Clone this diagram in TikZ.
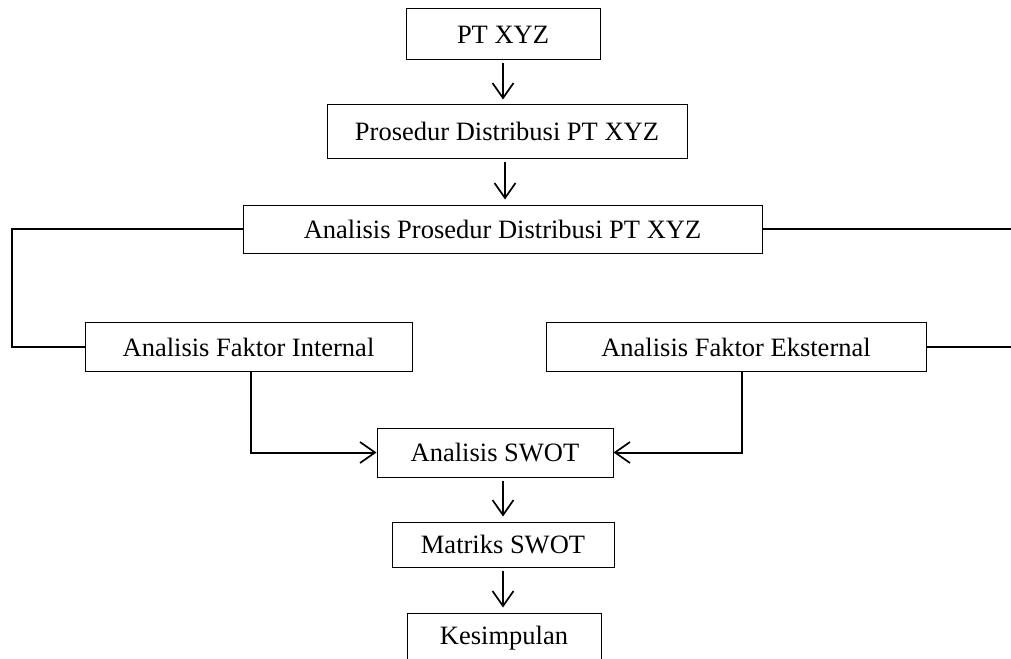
\documentclass[tikz,border=0pt]{standalone}
\usepackage{fontspec}
\setmainfont{Liberation Serif}
\usepackage{tikz}
\usetikzlibrary{arrows.meta, positioning, calc}

\begin{document}
\begin{tikzpicture}[
    x=1pt, y=-1pt,
    box/.style={rectangle, draw, line width=1pt, inner sep=0pt, align=center, font=\fontsize{26.5}{30}\selectfont},
    arrow/.style={-{Straight Barb[length=15pt, width=21pt, line width=1.7pt]}, line width=1.7pt, shorten <=3pt, shorten >=5pt},
    link/.style={line width=1.8pt},
    elbow/.style={-{Straight Barb[length=15pt, width=21pt, line width=1.7pt]}, line width=2pt}
]
    \useasboundingbox (0,0) rectangle (1011,658);
    \clip (0,0) rectangle (1011,658);

    % Main flow
    \node[box, minimum width=194pt, minimum height=51pt] (pt) at (503,34.5) {PT XYZ};
    \node[box, minimum width=360pt, minimum height=53pt] (prosedur) at (507,131.5) {Prosedur Distribusi PT XYZ};
    \node[box, minimum width=519pt, minimum height=48pt] (analisis) at (502.5,229) {Analisis Prosedur Distribusi PT XYZ};

    % Internal / external factors
    \node[box, minimum width=327pt, minimum height=49pt] (intern) at (248.5,347) {Analisis Faktor Internal};
    \node[box, minimum width=380pt, minimum height=49pt] (ekstern) at (736,347) {Analisis Faktor Eksternal};

    % SWOT and conclusion
    \node[box, minimum width=236pt, minimum height=49pt] (swot) at (495,452.5) {Analisis SWOT};
    \node[box, minimum width=222pt, minimum height=45pt] (matriks) at (503,544.5) {Matriks SWOT};
    \node[box, minimum width=194pt, minimum height=50pt] (kesimpulan) at (504,638) {Kesimpulan};

    % Side connectors
    \coordinate (kiri) at (12,229);
    \coordinate (kanan1) at (1011,229);
    \coordinate (kanan2) at (1011,347);

    % Arrows
    \draw[arrow] (pt.south) -- (pt.south |- prosedur.north);
    \draw[arrow] ([xshift=-2pt]prosedur.south) -- ([xshift=-2pt]prosedur.south |- analisis.north);
    \draw[arrow] ([xshift=8pt]swot.south) -- ([xshift=8pt]swot.south |- matriks.north);
    \draw[arrow] (matriks.south) -- (matriks.south |- kesimpulan.north);

    \draw[link] (analisis.west) -| (kiri) |- (intern.west);
    \draw[link] (analisis.east) -- (kanan1);
    \draw[link] (ekstern.east) -- (kanan2);

    \draw[elbow] ([xshift=2.5pt]intern.south) |- (swot.west);
    \draw[elbow] ([xshift=6pt]ekstern.south) |- (swot.east);
\end{tikzpicture}
\end{document}
